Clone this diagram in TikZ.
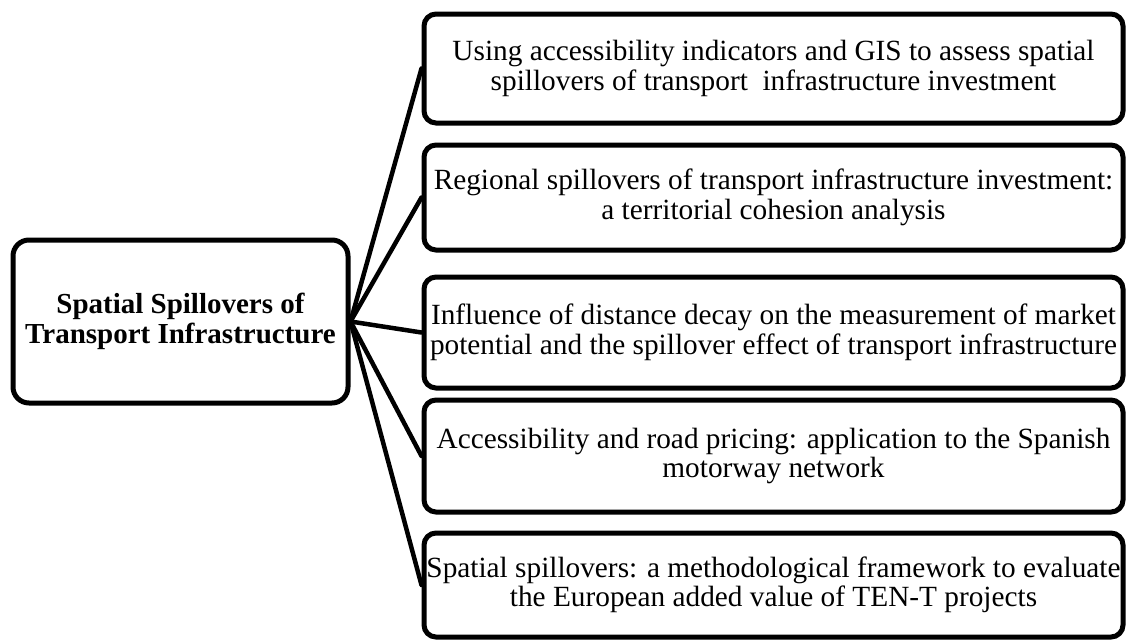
\documentclass[tikz,border=0pt]{standalone}
\usepackage{fontspec}
\setmainfont{Liberation Serif}
\begin{document}
\begin{tikzpicture}[x=1pt,y=-1pt,
  box/.style={draw=black,line width=5pt,rounded corners=12pt,fill=white,
    inner sep=0pt,align=center,minimum width=699pt,
    font=\fontsize{29.3}{29.5}\selectfont},
  hub/.style={draw=black,line width=5pt,rounded corners=16pt,fill=white,
    inner sep=0pt,align=center,minimum width=335pt,minimum height=163pt,
    font=\fontsize{29}{29.5}\selectfont\bfseries},
  link/.style={line width=4.5pt,line cap=round}]
  \fill[white] (0,0) rectangle (1130,640);
  \useasboundingbox (0,0) rectangle (1130,640);

  % central topic
  \node[hub] (hub) at (180.5,321.5) {Spatial Spillovers of\\Transport Infrastructure};

  % the five studies
  \node[box,minimum height=109pt] (s1) at (773.5,68.5)
    {Using accessibility indicators and GIS to assess spatial\\spillovers of transport\ \ infrastructure investment};
  \node[box,minimum height=105pt] (s2) at (773.5,197.5)
    {Regional spillovers of transport infrastructure investment:\\a territorial cohesion analysis};
  \node[box,minimum height=111pt] (s3) at (773.5,332.5)
    {Influence of distance decay on the measurement of market\\potential and the spillover effect of transport infrastructure};
  \node[box,minimum height=112pt] (s4) at (773.5,456)
    {Accessibility and road pricing: application to the Spanish\\motorway network};
  \node[box,minimum height=104pt] (s5) at (773.5,585)
    {Spatial spillovers: a methodological framework to evaluate\\the European added value of TEN-T projects};

  % connectors from the hub to each study
  \foreach \s in {s1,s2,s3,s4,s5}
    \draw[link] (hub.east) -- (\s.west);
\end{tikzpicture}
\end{document}
